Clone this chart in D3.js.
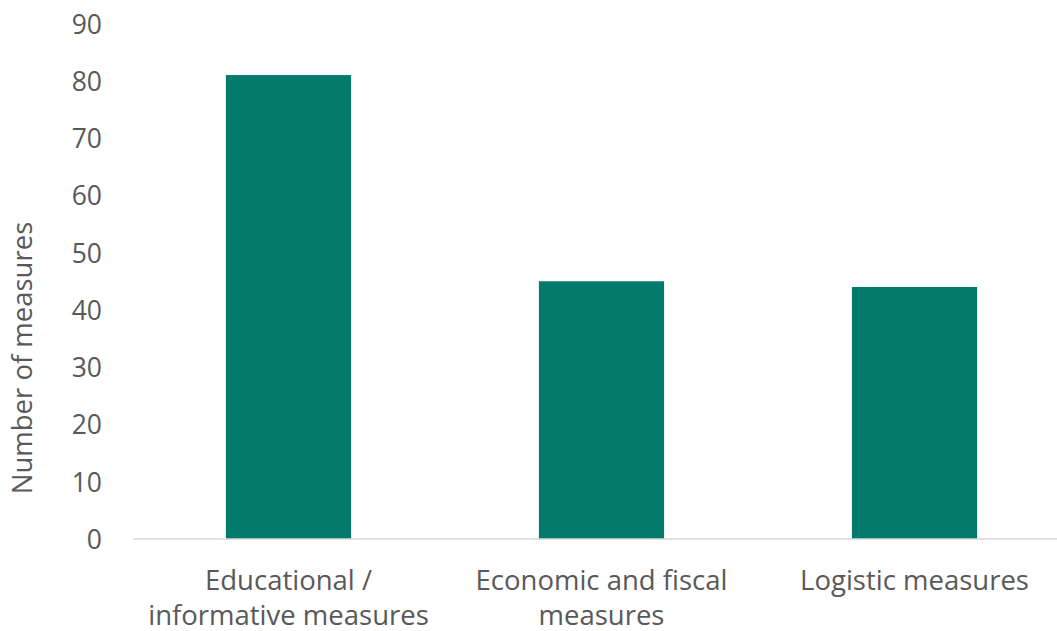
<!DOCTYPE html>
<html><head><meta charset="utf-8">
<script src="https://cdn.jsdelivr.net/npm/d3@7"></script>
<style>body{margin:0;background:#fff}svg{display:block}</style>
</head><body>
<svg id="c" width="1057" height="631"></svg>
<script>
const categories = [["Educational /","informative measures"],["Economic and fiscal","measures"],["Logistic measures"]];
const values = [81, 45, 44];
const yTicks = [0,10,20,30,40,50,60,70,80,90];
const yTitle = "Number of measures";

const svg = d3.select("#c");
const font = "'Open Sans', Lato, sans-serif";
const txt = "#595959";
const x = d3.scaleBand().domain(d3.range(values.length)).range([132, 1071]).paddingInner(0.6).paddingOuter(0.3);
const y = d3.scaleLinear().domain([0, 90]).range([539, 23.5]);

svg.selectAll("rect.bar").data(values).join("rect").attr("class","bar")
  .attr("x",(d,i)=>x(i)).attr("width",x.bandwidth())
  .attr("y",d=>y(d)).attr("height",d=>y(0)-y(d)).attr("fill","#027B6C");

svg.append("line").attr("x1",133).attr("x2",1057).attr("y1",y(0)).attr("y2",y(0))
  .attr("stroke","#D9D9D9").attr("stroke-width",1.5);

const yAxis = d3.axisLeft(y).tickValues(yTicks).tickSize(0).tickPadding(0);
const ga = svg.append("g").attr("transform","translate(102,0)").call(yAxis);
ga.select(".domain").remove();
ga.selectAll("text").attr("font-family",font).attr("font-size",26.5).attr("fill",txt).attr("dy","0.36em");

const gx = svg.append("g");
categories.forEach((lines,i)=>{
  const t = gx.append("text").attr("x",x(i)+x.bandwidth()/2).attr("text-anchor","middle")
    .attr("font-family",font).attr("font-size",27.5).attr("fill",txt);
  lines.forEach((l,j)=>t.append("tspan").attr("x",x(i)+x.bandwidth()/2).attr("y",590+j*35).text(l));
});

svg.append("text").attr("transform","translate(32,358) rotate(-90)").attr("text-anchor","middle")
  .attr("font-family",font).attr("font-size",27.5).attr("fill",txt).text(yTitle);
</script>
</body></html>
